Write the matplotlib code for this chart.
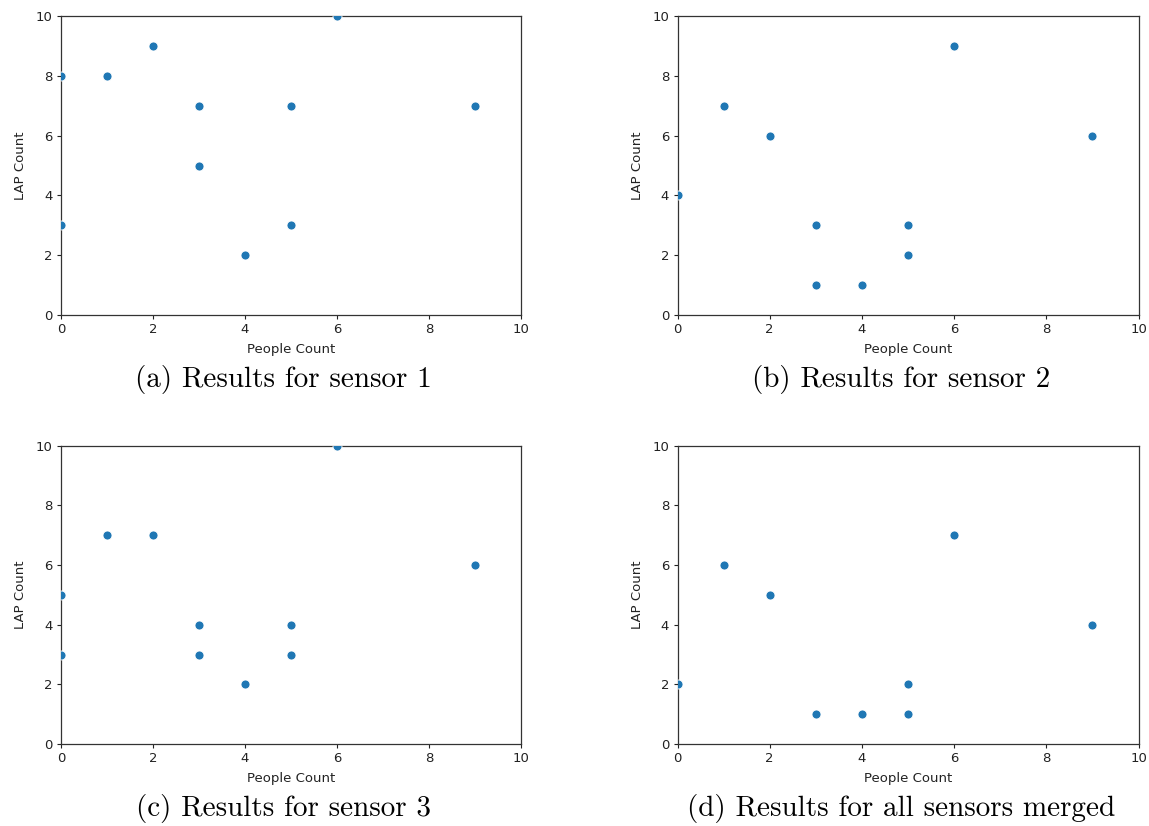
import matplotlib
matplotlib.use('Agg')
import matplotlib.pyplot as plt

# people count vs LAP count, one panel per sensor
people_s1 = [0, 0, 1, 2, 3, 3, 4, 5, 5, 6, 9]
lap_s1 = [8, 3, 8, 9, 7, 5, 2, 7, 3, 10, 7]

people_s2 = [0, 1, 2, 3, 3, 4, 5, 5, 6, 9]
lap_s2 = [4, 7, 6, 3, 1, 1, 3, 2, 9, 6]

people_s3 = [0, 0, 1, 2, 3, 3, 4, 5, 5, 6, 9]
lap_s3 = [5, 3, 7, 7, 4, 3, 2, 4, 3, 10, 6]

people_all = [0, 1, 2, 3, 4, 5, 5, 6, 9]
lap_all = [2, 6, 5, 1, 1, 2, 1, 7, 4]

captions = ['(a) Results for sensor 1', '(b) Results for sensor 2',
            '(c) Results for sensor 3', '(d) Results for all sensors merged']

W, H = 1149, 826
fig = plt.figure(figsize=(W / 100, H / 100), dpi=100)

# axes boxes in pixels: left, top, right, bottom
boxes = [(61, 16, 521, 315), (677.5, 16, 1138.5, 315),
         (61, 445.7, 521, 744), (677.5, 445.7, 1138.5, 744)]
# caption centre x and baseline y in pixels
cap_pos = [(283.5, 387.5), (901, 387.5), (284, 816), (901, 816)]
data = [(people_s1, lap_s1), (people_s2, lap_s2), (people_s3, lap_s3), (people_all, lap_all)]

for (l, t, r, b), (xs, ys), cap, (cx, cy) in zip(boxes, data, captions, cap_pos):
    ax = fig.add_axes([l / W, 1 - b / H, (r - l) / W, (b - t) / H])
    ax.scatter(xs, ys, s=42, color='#1f77b4', edgecolors='white', linewidths=0.6, zorder=3)
    ax.set_xlim(0, 10)
    ax.set_ylim(0, 10)
    ax.set_xticks([0, 2, 4, 6, 8, 10])
    ax.set_yticks([0, 2, 4, 6, 8, 10])
    ax.tick_params(labelsize=9.5, colors='#222222', length=3, width=0.8, pad=3)
    for sp in ax.spines.values():
        sp.set_color('#333333')
        sp.set_linewidth(0.9)
    ax.set_xlabel('People Count', fontsize=9.5, color='#222222', labelpad=5)
    ax.set_ylabel('LAP Count', fontsize=9.5, color='#222222', labelpad=6)
    fig.text(cx / W, 1 - cy / H, cap, family='cmr10', fontsize=21,
             ha='center', va='baseline')

fig.savefig('out.png', dpi=100)
